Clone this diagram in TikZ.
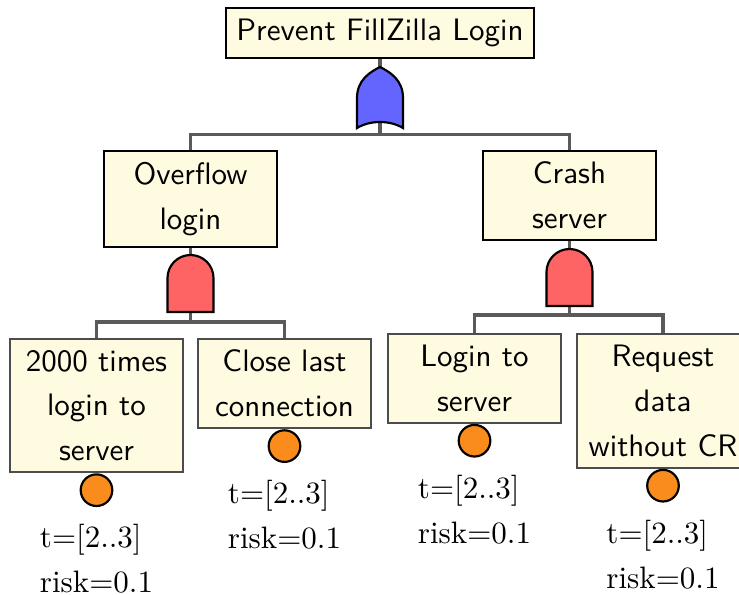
\documentclass[tikz,border=0pt]{standalone}
\definecolor{boxfill}{RGB}{255,251,225}
\definecolor{orblue}{RGB}{100,100,255}
\definecolor{andred}{RGB}{255,100,100}
\definecolor{evorange}{RGB}{250,140,30}
\definecolor{connGray}{RGB}{90,90,90}
\tikzset{
  conn/.style={draw=connGray, line width=1.05pt},
  goalbox/.style={draw=black, line width=0.65pt, fill=boxfill, inner xsep=3.4pt, inner ysep=3.55pt,
     align=center, font=\sffamily\fontsize{10}{14.5}\selectfont},
  subbox/.style={goalbox, text width=49pt},
  leafbox/.style={subbox, draw=black!70},
  gateline/.style={draw=black, line width=0.7pt},
  event/.style={circle, draw=black, line width=0.7pt, fill=evorange, minimum size=10.2pt, inner sep=0pt},
  evlabel/.style={anchor=north, inner sep=0pt, yshift=-5.5pt, align=left, font=\rmfamily\fontsize{10}{14.5}\selectfont},
  pics/andgate/.style={code={
    \draw[gateline, fill=andred] (-23,0) -- (-23,-34) .. controls (-23,-46.7) and (-12.7,-57) .. (0,-57)
      .. controls (12.7,-57) and (23,-46.7) .. (23,-34) -- (23,0) -- cycle;}},
  pics/orgate/.style={code={
    \draw[gateline, fill=orblue] (-23,0) -- (-23,-30) .. controls (-23,-48) and (-10,-56) .. (0,-61)
      .. controls (10,-56) and (23,-48) .. (23,-30) -- (23,0) .. controls (10,-8) and (-10,-8) .. (-23,0) -- cycle;}}
}
\begin{document}
\begin{tikzpicture}[x=0.3226pt, y=-0.3226pt]
\useasboundingbox (0,0) rectangle (739,594);
% boxes
\node[goalbox, anchor=north] (top) at (380,7) {Prevent FillZilla Login};
\node[subbox, anchor=north] (ov) at (190.5,150) {Overflow\\login};
\node[subbox, anchor=north] (cr) at (569.5,150) {Crash\\server};
\node[leafbox, anchor=north] (l1) at (96.5,338) {2000 times\\login to\\server};
\node[leafbox, anchor=north] (l2) at (284.5,338) {Close last\\connection};
\node[leafbox, anchor=north] (l3) at (474.5,333) {Login to\\server};
\node[leafbox, anchor=north] (l4) at (663,333) {Request\\data\\without CR};
% junction points
\coordinate (b0) at (380,134.5);
\coordinate (b1) at (190.5,322);
\coordinate (b2) at (569.5,315);
% connectors
\draw[conn] (top.south) -- (b0);
\draw[conn] (ov.north) |- (b0) -| (cr.north);
\draw[conn] (ov.south) -- (b1);
\draw[conn] (l1.north) |- (b1) -| (l2.north);
\draw[conn] (cr.south) -- (b2);
\draw[conn] (l3.north) |- (b2) -| (l4.north);
% gates
\pic at (380,128) {orgate};
\pic at (190.5,312) {andgate};
\pic at (569.5,306) {andgate};
% basic events
\node[event, anchor=north] (c1) at (l1.south) {};
\node[event, anchor=north] (c2) at (l2.south) {};
\node[event, anchor=north] (c3) at (l3.south) {};
\node[event, anchor=north] (c4) at (l4.south) {};
\node[evlabel] (t1) at (c1.south) {t=[2..3]\\risk=0.1};
\node[evlabel] (t2) at (c2.south) {t=[2..3]\\risk=0.1};
\node[evlabel] (t3) at (c3.south) {t=[2..3]\\risk=0.1};
\node[evlabel] (t4) at (c4.south) {t=[2..3]\\risk=0.1};
\end{tikzpicture}
\end{document}
